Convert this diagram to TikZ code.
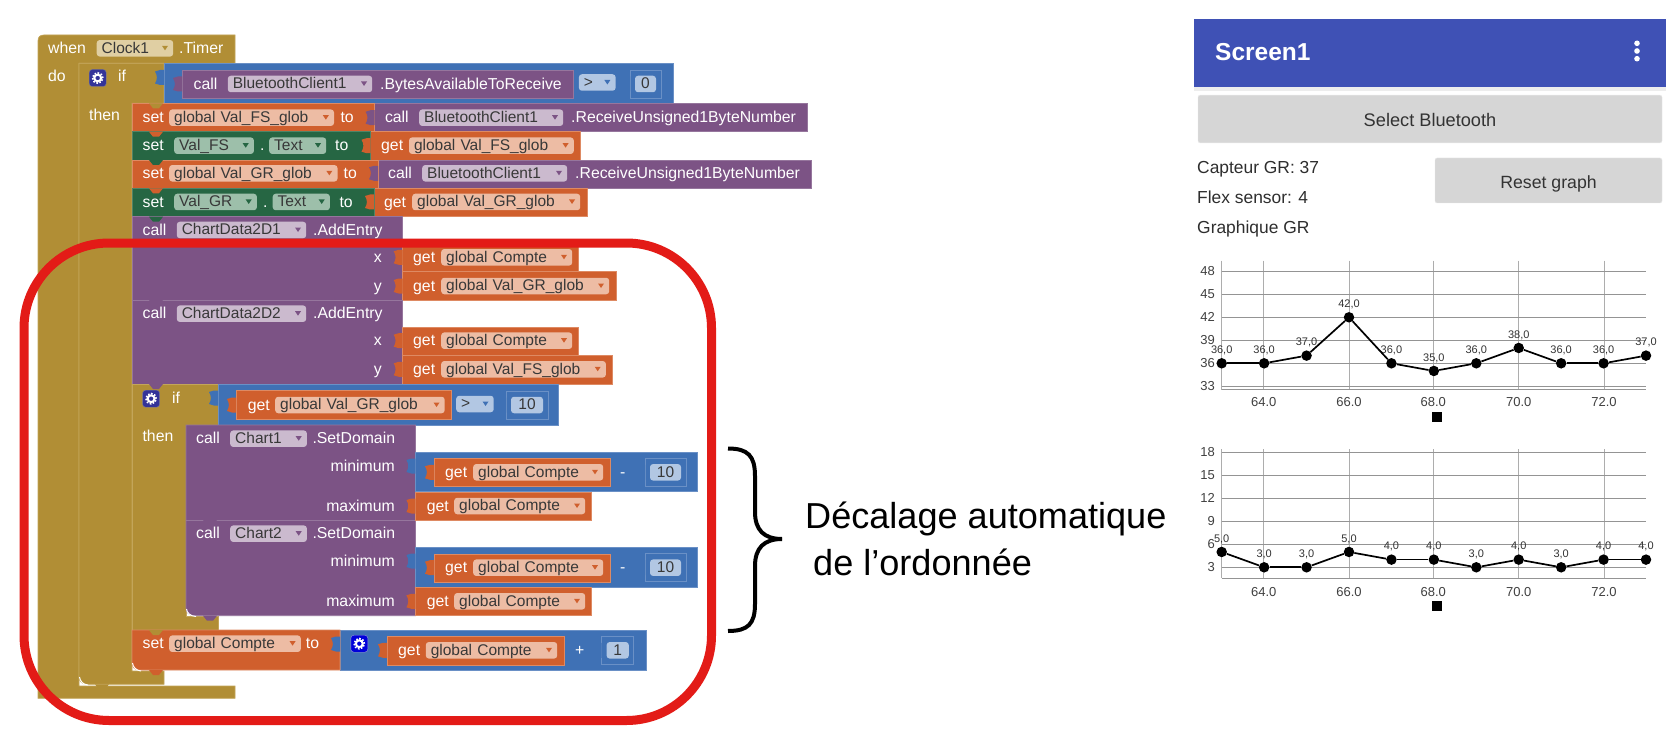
\documentclass[tikz,border=0pt]{standalone}
\usepackage{fontspec}
\setmainfont{Liberation Sans}
\usetikzlibrary{positioning}

\definecolor{blockM}{HTML}{B18E35}
\definecolor{edgeM}{HTML}{C3A559}
\definecolor{pillM}{HTML}{E0CFA3}
\definecolor{blockO}{HTML}{D05F2D}
\definecolor{edgeO}{HTML}{DE8A63}
\definecolor{pillO}{HTML}{EDBCA4}
\definecolor{blockP}{HTML}{7C5385}
\definecolor{edgeP}{HTML}{96769D}
\definecolor{pillP}{HTML}{CBBACE}
\definecolor{blockG}{HTML}{266643}
\definecolor{edgeG}{HTML}{4F8467}
\definecolor{pillG}{HTML}{9DBFAA}
\definecolor{blockB}{HTML}{3F71B5}
\definecolor{edgeB}{HTML}{6A90C6}
\definecolor{pillB}{HTML}{B2C7E3}
\definecolor{barblue}{HTML}{3F51B5}
\definecolor{redframe}{HTML}{E31B17}
\definecolor{btngray}{HTML}{D6D6D6}

\tikzset{
  blk/.style={line width=0.7pt},
  btext/.style={anchor=west, inner sep=0pt, text=white, font=\fontsize{15.8}{18}\selectfont, text height=12pt, text depth=1.5pt},
  rtext/.style={btext, anchor=east},
  pillbox/.style={anchor=west, rounded corners=3pt, inner xsep=5pt, inner ysep=1pt, align=left, text=black!78,
    font=\fontsize{15.5}{18}\selectfont, text height=12pt, text depth=2.5pt},
  apptext/.style={anchor=west, inner sep=0pt, text=black!82, font=\fontsize{17.4}{20}\selectfont, text height=12pt, text depth=4pt},
  button/.style={fill=btngray, draw=black!8, rounded corners=2pt, inner sep=0pt, text=black!80, font=\fontsize{17.7}{20}\selectfont, text height=17pt, text depth=1.6pt},
  tick/.style={inner sep=0pt, text=black!75, font=\fontsize{13}{15}\selectfont},
  vallabel/.style={inner sep=0pt, text=black!80, font=\fontsize{11}{13}\selectfont},
  dot/.style={circle, fill=black, inner sep=0pt, minimum size=10.5pt},
  gridv/.style={black!32, line width=0.9pt},
  gridh/.style={black!42, line width=0.8pt}
}

% x1 y1 x2 y2 of a plain block
\newcommand{\blk}[5]{\draw[blk, fill=block#1, draw=edge#1] (#2,#3) rectangle (#4,#5);}
% white text on a block
\newcommand{\btx}[4]{\node (#1) [btext] at (#2,#3) {#4};}
\newcommand{\rtx}[4]{\node (#1) [rtext] at (#2,#3) {#4};}
% socket on the left side of a block
\newcommand{\tabin}[3]{\fill[block#1] (#2,{#3-7.5}) -- ({#2-4},{#3-7.5}) -- ({#2-9},{#3-6}) .. controls ({#2-6.5},{#3-2}) and ({#2-6.5},{#3+2}) .. ({#2-9},{#3+6}) -- ({#2-4},{#3+7.5}) -- (#2,{#3+7.5}) -- cycle;}
% notch of a stacked block
\newcommand{\notch}[3]{\fill[block#1] (#2,#3) -- ({#2+4},{#3+5}) -- ({#2+10},{#3+5}) -- ({#2+14},#3) -- cycle;}
% name, colour, x1, x2, y, text
\newcommand{\pill}[6]{
  \node (#1) [pillbox, fill=pill#2, text width={(#4-#3-10)*1pt}] at (#3,#5) {#6};
  \fill[block#2] ({#4-11},{#5-2.5}) -- ++(6,0) -- ++(-3,4.5) -- cycle;
}
% name, x1, x2, y, number
\newcommand{\numbox}[5]{
  \draw[edgeB, line width=0.7pt] (#2,{#4-14}) rectangle (#3,{#4+14});
  \tabin{B}{#2}{#4}
  \node (#1) [pillbox, fill=pillB, anchor=center, inner xsep=0pt, text width={(#3-#2-10)*1pt}, align=center] at ({(#2+#3)/2},#4) {#5};
}
% name, x, y, fill
\newcommand{\gearbox}[4]{
  \node (#1) [anchor=north west, fill=#4, draw=white!70!#4, rounded corners=3pt, minimum width=17pt, minimum height=17pt, inner sep=0pt] at (#2,#3) {};
  \draw[white, line width=2pt] (#1.center) circle (3.4pt);
  \draw[white, line width=1.6pt, dash pattern=on 1.6pt off 1.6pt] (#1.center) circle (5.2pt);
}

\begin{document}
\begin{tikzpicture}[x=1pt, y=-1pt]
\useasboundingbox (0,0) rectangle (1678,754);
\fill[white] (0,0) rectangle (1678,754);

% Clock block
\draw[blk, fill=blockM, draw=edgeM] (38,41) .. controls (38,37) and (40,35) .. (44,35) -- (235,35) -- (235,63.3) -- (79,63.3)
  -- (79,686) -- (235,686) -- (235,698.3) -- (38,698.3) -- cycle;
\btx{whenT}{48}{48.3}{when}
\pill{clockP}{M}{96.5}{173}{48.3}{Clock1}
\btx{timerT}{179}{48.3}{.Timer}
\btx{doT}{48}{76.7}{do}

% Outer if
\draw[blk, fill=blockM, draw=edgeM] (79,63.3) -- (164,63.3) -- (164,103.3) -- (132,103.3) -- (132,671) -- (164,671) -- (164,684.3) -- (87,684.3) .. controls (82,684.3) and (79,681) .. (79,677) -- cycle;
\draw[white, line width=1pt] (79.5,677) .. controls (80,681) and (83,684.8) .. (88,685);
\notch{M}{95}{684.3}
\gearbox{gearA}{89}{69.3}{blue!50!black!80!white}
\btx{ifA}{118}{76.7}{if}
\btx{thenA}{89}{115.7}{then}
\blk{B}{164}{63.3}{673}{103.3}
\tabin{B}{164}{77.5}
\blk{P}{182}{70}{573.6}{98}
\tabin{P}{182}{84}
\btx{callA}{193.5}{84}{call}
\pill{btA}{P}{227.6}{372}{84}{BluetoothClient1}
\btx{bytesT}{380}{84}{.BytesAvailableToReceive}
\pill{gtA}{B}{578.7}{615.4}{82.5}{>}
\numbox{numA}{630}{661}{84}{0}

% Rows of the then part
\blk{P}{374.6}{103.3}{807}{131.7}
\blk{O}{132}{103.3}{374.6}{131.7}
\notch{M}{149}{103.3}
\tabin{P}{374.6}{117.7}
\btx{setA}{142.4}{117.7}{set}
\pill{fsA}{O}{169}{333.8}{117.7}{global Val\_FS\_glob}
\btx{toA}{340.4}{117.7}{to}
\btx{callB}{384.8}{117.7}{call}
\pill{btB}{P}{419}{563}{117.7}{BluetoothClient1}
\btx{recvA}{571}{117.7}{.ReceiveUnsigned1ByteNumber}

\blk{O}{370.5}{131.7}{580}{160}
\blk{G}{132}{131.7}{370.5}{160}
\tabin{O}{370.5}{145.7}
\notch{O}{149}{131.7}
\btx{setB}{142.4}{145.7}{set}
\pill{fsB}{G}{174}{253.7}{145.7}{Val\_FS}
\btx{dotA}{260}{145.7}{.}
\pill{textA}{G}{269}{326}{145.7}{Text}
\btx{toB}{335}{145.7}{to}
\btx{getA}{381}{145.7}{get}
\pill{fsC}{O}{408.8}{573.6}{145.7}{global Val\_FS\_glob}

\blk{P}{378}{160}{811}{188.3}
\blk{O}{132}{160}{378}{188.3}
\tabin{P}{378}{173.3}
\notch{G}{149}{160}
\btx{setC}{142.4}{173.3}{set}
\pill{grA}{O}{169}{337.3}{173.3}{global Val\_GR\_glob}
\btx{toC}{343.5}{173.3}{to}
\btx{callC}{388}{173.3}{call}
\pill{btC}{P}{422}{567}{173.3}{BluetoothClient1}
\btx{recvB}{575}{173.3}{.ReceiveUnsigned1ByteNumber}

\blk{O}{374}{188.3}{587}{216.7}
\blk{G}{132}{188.3}{374}{216.7}
\tabin{O}{374}{202}
\notch{O}{149}{188.3}
\btx{setD}{142.4}{202}{set}
\pill{grB}{G}{174}{256.7}{202}{Val\_GR}
\btx{dotB}{263}{202}{.}
\pill{textB}{G}{272.5}{329.7}{202}{Text}
\btx{toD}{339.4}{202}{to}
\btx{getB}{383.8}{202}{get}
\pill{grC}{O}{412}{580}{202}{global Val\_GR\_glob}

% Chart data entries
\blk{P}{132}{216.7}{402.7}{300}
\notch{G}{149}{216.7}
\btx{callD}{142.4}{230}{call}
\pill{cdA}{P}{176.6}{306}{230}{ChartData2D1}
\btx{addA}{313}{230}{.AddEntry}
\rtx{xA}{382}{257.3}{x}
\rtx{yA}{382}{286}{y}
\blk{O}{402.7}{244.3}{578.7}{271.7}
\tabin{O}{402.7}{257.3}
\btx{getC}{413}{257.3}{get}
\pill{cpA}{O}{441}{572}{257.3}{global Compte}
\blk{O}{402.7}{271.7}{616}{300}
\tabin{O}{402.7}{286}
\btx{getD}{413}{286}{get}
\pill{grD}{O}{441}{609}{286}{global Val\_GR\_glob}

\blk{P}{132}{300}{402.7}{384}
\notch{P}{149}{300}
\btx{callE}{142.4}{313.7}{call}
\pill{cdB}{P}{176.6}{306}{313.7}{ChartData2D2}
\btx{addB}{313}{313.7}{.AddEntry}
\rtx{xB}{382}{340.7}{x}
\rtx{yB}{382}{369.3}{y}
\blk{O}{402.7}{327.3}{578.7}{355}
\tabin{O}{402.7}{340.7}
\btx{getE}{413}{340.7}{get}
\pill{cpB}{O}{441}{572}{340.7}{global Compte}
\blk{O}{402.7}{355}{612}{384}
\tabin{O}{402.7}{369.3}
\btx{getF}{413}{369.3}{get}
\pill{fsD}{O}{441}{605.7}{369.3}{global Val\_FS\_glob}

% Inner if
\draw[blk, fill=blockM, draw=edgeM] (132,384) -- (218,384) -- (218,425) -- (186,425) -- (186,616) -- (218,616) -- (218,630) -- (132,630) -- cycle;
\notch{P}{149}{384}
\gearbox{gearB}{142.4}{390}{blue!50!black!80!white}
\btx{ifB}{172}{398.3}{if}
\btx{thenB}{142.4}{436.7}{then}
\blk{B}{218}{384}{558.8}{425}
\tabin{B}{218}{398}
\blk{O}{236}{390.7}{451}{419.3}
\tabin{O}{236}{405}
\btx{getG}{247.6}{405}{get}
\pill{grE}{O}{275}{444.5}{405}{global Val\_GR\_glob}
\pill{gtB}{B}{456}{493.5}{404}{>}
\numbox{numB}{506}{548}{405}{10}

% Chart domains
\draw[blk, fill=blockP, draw=edgeP] (186,425) -- (415.4,425) -- (415.4,615.7) -- (194,615.7) .. controls (189,615.7) and (186,612) .. (186,608) -- cycle;
\draw[edgeP, line width=0.7pt] (186,520) -- (415.4,520);
\draw[white, line width=1pt] (186.5,609) .. controls (187,613) and (190,616) .. (196,616.5);
\notch{P}{203}{520}
\notch{P}{203}{615.7}
\btx{callF}{196}{438.7}{call}
\pill{chA}{P}{230}{306.7}{438.7}{Chart1}
\btx{domA}{312.3}{438.7}{.SetDomain}
\rtx{minA}{395}{466}{minimum}
\rtx{maxA}{395}{506}{maximum}
\blk{B}{415.4}{452.3}{697.6}{491.7}
\tabin{B}{415.4}{466}
\blk{O}{434}{458}{610}{486.7}
\tabin{O}{434}{472.3}
\btx{getH}{445}{472.3}{get}
\pill{cpC}{O}{473}{603}{472.3}{global Compte}
\btx{minusA}{620}{472.3}{-}
\numbox{numC}{645}{686}{472.3}{10}
\blk{O}{415.4}{492.3}{591.4}{520}
\tabin{O}{415.4}{506}
\btx{getI}{426.6}{506}{get}
\pill{cpD}{O}{454}{585}{506}{global Compte}

\btx{callG}{196}{533.7}{call}
\pill{chB}{P}{230}{306.7}{533.7}{Chart2}
\btx{domB}{312.3}{533.7}{.SetDomain}
\rtx{minB}{395}{561}{minimum}
\rtx{maxB}{395}{601.3}{maximum}
\blk{B}{415.4}{547.7}{697.6}{587.3}
\tabin{B}{415.4}{561}
\blk{O}{434}{554}{610}{582.3}
\tabin{O}{434}{567.7}
\btx{getJ}{445}{567.7}{get}
\pill{cpE}{O}{473}{603}{567.7}{global Compte}
\btx{minusB}{620}{567.7}{-}
\numbox{numD}{645}{686}{567.7}{10}
\blk{O}{415.4}{587.7}{591.4}{615.7}
\tabin{O}{415.4}{601.3}
\btx{getK}{426.6}{601.3}{get}
\pill{cpF}{O}{454}{585}{601.3}{global Compte}

% Counter
\blk{B}{340}{630}{646}{670}
\draw[blk, fill=blockO, draw=edgeO] (132,630) -- (340,630) -- (340,670) -- (139,670) .. controls (135,670) and (132,667) .. (132,663) -- cycle;
\draw[white, line width=1pt] (132.5,663) .. controls (133,667) and (136,670.5) .. (141,671);
\notch{M}{149}{630}
\notch{O}{149}{670}
\tabin{B}{340}{644}
\btx{setE}{142.4}{643.7}{set}
\pill{cpG}{O}{169}{300.6}{643.7}{global Compte}
\btx{toE}{305.7}{643.7}{to}
\gearbox{gearC}{350.6}{635}{blue!85!black}
\blk{O}{387}{636}{564.4}{665}
\tabin{O}{387}{650.3}
\btx{getL}{398}{650.3}{get}
\pill{cpH}{O}{425.6}{557}{650.3}{global Compte}
\btx{plusA}{575}{650.3}{+}
\numbox{numE}{601.6}{633.8}{650.3}{1}

% Red frame
\draw[redframe, line width=9pt, rounded corners=85pt] (24,243) rectangle (711.5,720.5);

% Brace
\draw[black, line width=4pt] (728,448.5) .. controls (748,448.5) and (755,456) .. (755,476) -- (755,512)
  .. controls (755,530) and (764,539) .. (782,539);
\draw[black, line width=4pt] (728,631) .. controls (748,631) and (755,624) .. (755,604) -- (755,566)
  .. controls (755,548) and (764,539) .. (782,539);
\node (shiftA) [anchor=west, inner sep=0pt, font=\fontsize{36.1}{40}\selectfont] at (805,519) {Décalage automatique};
\node (shiftB) [anchor=west, inner sep=0pt, font=\fontsize{36.1}{40}\selectfont] at (813,562) {de l’ordonnée};

% App bar
\fill[black!7] (1194,87) rectangle (1666,91);
\fill[barblue] (1194,19) rectangle (1666,87.3);
\node (screenT) [anchor=west, inner sep=0pt, text=white, font=\bfseries\fontsize{24.5}{30}\selectfont] at (1215,51.7) {Screen1};
\foreach \dy [count=\i] in {43.3,51,58.7}
  \fill[white] (1637,\dy) circle (2.8pt);

% Buttons and labels
\node (selectB) [button, font=\fontsize{18.2}{20}\selectfont, minimum width=464pt, minimum height=47.7pt] at (1430,119) {Select Bluetooth};
\node (resetB) [button, minimum width=227pt, minimum height=45pt] at (1548.5,180.5) {Reset graph};
\node (capteurT) [apptext] at (1197,169.3) {Capteur GR: 37};
\node (flexT) [apptext] at (1197,199.3) {Flex sensor: 4};
\node (graphT) [apptext] at (1197,229.3) {Graphique GR};

% Top chart
\foreach \gx in {1221.7,1263.7,1349,1433.3,1518.7,1604}
  \draw[gridv] (\gx,260.7) -- (\gx,390);
\foreach \gy/\lab in {271.3/48,294.3/45,317.3/42,340.3/39,363.3/36,386.3/33} {
  \draw[gridh] (1221.7,\gy) -- (1646,\gy);
  \node (tickA\lab) [tick, anchor=east] at (1215,\gy) {\lab};
}
\draw[gridh] (1221.7,389.5) -- (1646,389.5);
\foreach \gx/\lab in {1263.7/64,1349/66,1433.3/68,1518.7/70,1604/72}
  \node (labA\lab) [tick] at (\gx,402.3) {\lab.0};
\foreach \val [count=\i from 63] in {36,36,37,42,36,35,36,38,36,36,37} {
  \pgfmathsetmacro{\px}{1221.7+(\i-63)*42.43}
  \pgfmathsetmacro{\py}{363.3-(\val-36)*7.667}
  \node (top\i) [dot] at (\px,\py) {};
  \node (topv\i) [vallabel] at (\px,\py-13) {\val,0};
}
\foreach \i [remember=\i as \j (initially 63)] in {64,...,73}
  \draw[black, line width=1.7pt] (top\j) -- (top\i);
\node (legendA) [fill=black, inner sep=0pt, minimum size=10pt] at (1437.3,416.7) {};

% Bottom chart
\foreach \gx in {1221.7,1263.7,1349,1433.3,1518.7,1604}
  \draw[gridv] (\gx,449.3) -- (\gx,578.3);
\foreach \gy/\lab in {452.3/18,475.3/15,498.3/12,521.3/9,544.3/6,567.3/3} {
  \draw[gridh] (1221.7,\gy) -- (1646,\gy);
  \node (tickB\lab) [tick, anchor=east] at (1215,\gy) {\lab};
}
\draw[gridh] (1221.7,578.3) -- (1646,578.3);
\foreach \gx/\lab in {1263.7/64,1349/66,1433.3/68,1518.7/70,1604/72}
  \node (labB\lab) [tick] at (\gx,591.7) {\lab.0};
\foreach \val [count=\i from 63] in {5,3,3,5,4,4,3,4,3,4,4} {
  \pgfmathsetmacro{\px}{1221.7+(\i-63)*42.43}
  \pgfmathsetmacro{\py}{567.3-(\val-3)*7.667}
  \node (bot\i) [dot] at (\px,\py) {};
  \node (botv\i) [vallabel] at (\px,\py-13) {\val,0};
}
\foreach \i [remember=\i as \j (initially 63)] in {64,...,73}
  \draw[black, line width=1.7pt] (bot\j) -- (bot\i);
\node (legendB) [fill=black, inner sep=0pt, minimum size=10pt] at (1437.3,605.7) {};
\end{tikzpicture}
\end{document}
